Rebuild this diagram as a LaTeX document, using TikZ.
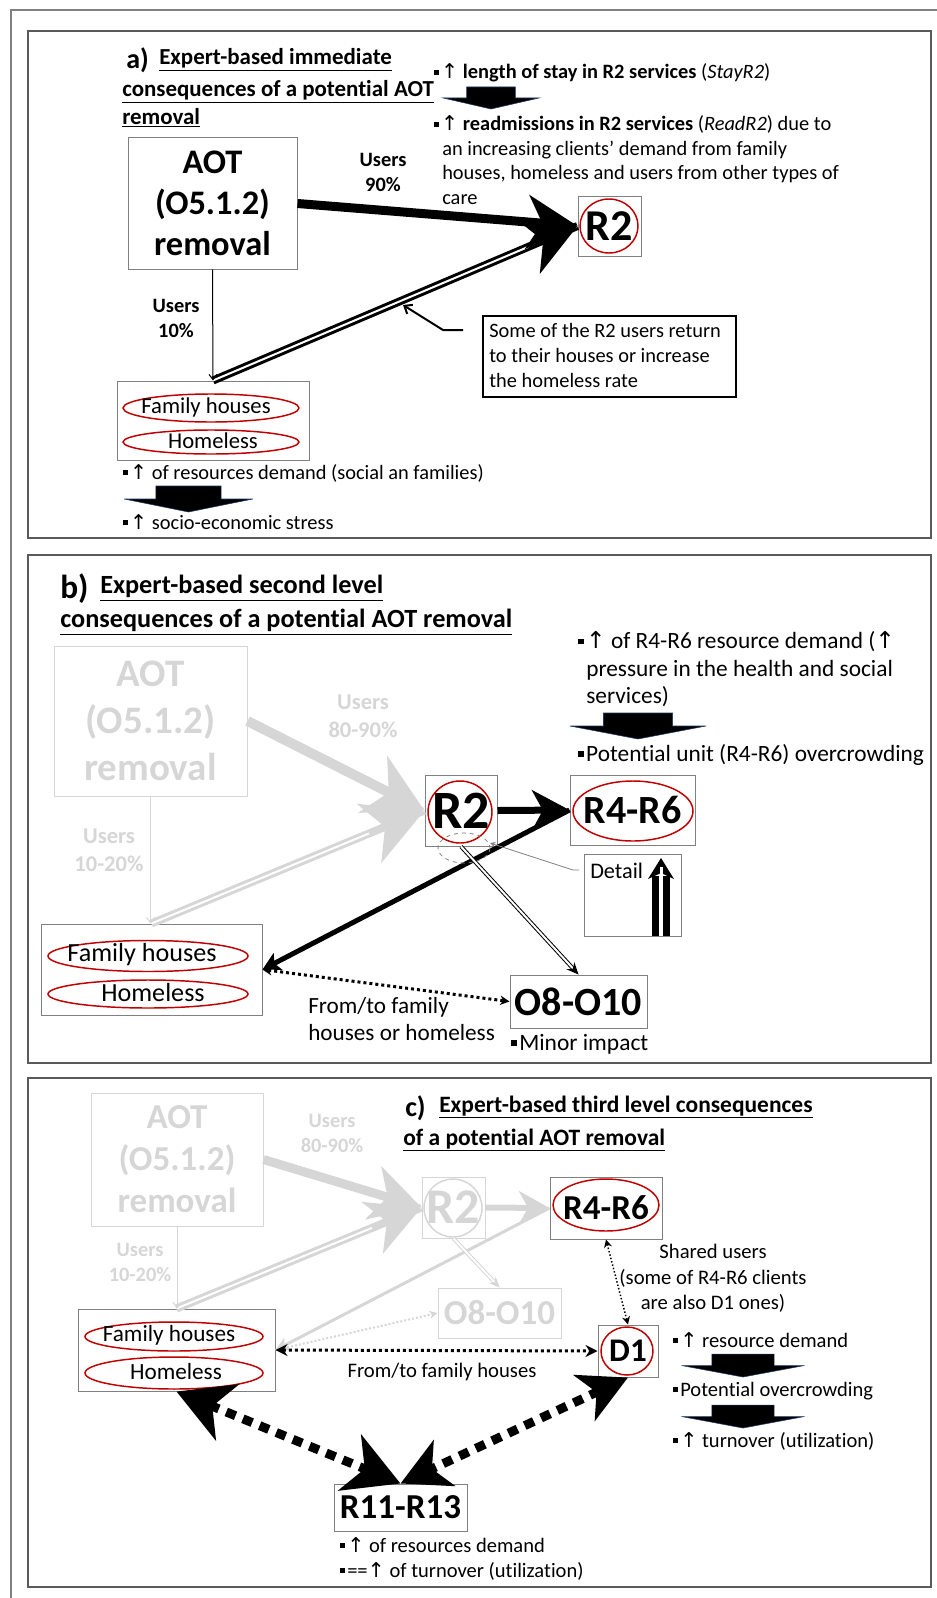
\documentclass[tikz,border=0pt]{standalone}
\usepackage{fontspec}
\setmainfont{Carlito}[Ligatures=CommonOff]
\newfontfamily\symfont{DejaVu Sans}
\usetikzlibrary{arrows.meta,calc}

\definecolor{boxgrey}{HTML}{808080}
\definecolor{framegrey}{HTML}{5A5A5A}
\definecolor{fade}{HTML}{D6D6D6}
\definecolor{ringred}{HTML}{C00000}
\definecolor{edgeblue}{HTML}{1F3864}

\newcommand\sqbul{\raisebox{0.2em}{\rule{0.24em}{0.24em}}\hspace{0.1em}}
\newcommand\uparr{{\symfont\char"2191}}

\tikzset{
  fs/.style 2 args={font=\fontsize{#1}{#2}\selectfont},
  fsb/.style 2 args={font=\fontsize{#1}{#2}\selectfont\bfseries},
  box/.style={draw=boxgrey, line width=0.75pt, inner sep=0pt, align=center},
  ghostbox/.style={box, draw=fade, text=fade},
  txt/.style={inner sep=0pt, align=left, anchor=west},
  ring/.style={draw=ringred, line width=1.1pt},
  panel/.style={draw=framegrey, line width=1.1pt},
  dblline/.style={line width=2.25pt, double=white, double distance=1.5pt},
  thindbl/.style={line width=0.75pt, double=white, double distance=1.5pt},
  thinarrow/.style={line width=0.75pt, -{Straight Barb[length=4pt,width=6pt]}},
  dotline/.style={line width=2.25pt, dash pattern=on 2.25pt off 2.25pt},
  bigdash/.style={line width=6.75pt, dash pattern=on 7.5pt off 6pt},
  downblk/.pic={
    \filldraw[draw=edgeblue, fill=black, line width=0.4pt]
      (-33,0) -- (33,0) -- (33,13) -- (65,13) -- (0,26) -- (-65,13) -- (-33,13) -- cycle;
  }
}

\begin{document}
\begin{tikzpicture}[x=0.75pt, y=-0.75pt]
    \useasboundingbox (0,0) rectangle (936,1598);
    \draw[draw=boxgrey, line width=1.1pt] (11,10) rectangle (950,1612);

    % Panel a: immediate consequences
    \draw[panel] (28,31) rectangle (931,538);
    \node[txt, fsb={21}{24}] (labA) at (126,60) {a)};
    \node[txt, fsb={17.2}{21}] (titA1) at (159,60) {\underline{Expert-based immediate}};
    \node[txt, fsb={17.2}{21}] (titA2) at (122,104) {\underline{consequences of a potential AOT}\\\underline{removal}};

    \node[box, minimum width=126.75pt, minimum height=98.25pt, fsb={25.8}{30.75}]
          (aotA) at (212.5,203.5) {AOT\\(O5.1.2)\\removal};
    \node[box, minimum width=47.25pt, minimum height=45pt, fsb={33}{36}] (r2A) at (609.5,226) {R2};
    \draw[ring] (609,226) ellipse [x radius=29, y radius=27];
    \node[box, minimum width=144pt, minimum height=59.25pt] (famA) at (213,420.5) {};
    \draw[ring] (211,408) ellipse [x radius=88, y radius=14];
    \draw[ring] (211,442) ellipse [x radius=88, y radius=12];
    \node[fs={17}{19}, inner sep=0pt] (famA1) at (206,407) {Family houses};
    \node[fs={17}{19}, inner sep=0pt] (famA2) at (213,441) {Homeless};
    \node[fsb={15.3}{18.75}, align=center, inner sep=0pt] (usrA1) at (383,172.5) {Users\\90\%};
    \node[fsb={15.3}{18.75}, align=center, inner sep=0pt] (usrA2) at (176,318) {Users\\10\%};

    % Flows a
    \draw[dblline] (famA.north) -- (r2A.west);
    \draw[line width=2pt, -{Stealth[length=40pt,width=44pt,inset=12pt]}]
          ($(r2A.west)!40pt!(famA.north)$) -- (r2A.west);
    \draw[line width=6.75pt, -{Stealth[length=37.5pt,width=40pt,inset=11pt]}] (aotA.east) -- (r2A.west);
    \draw[thinarrow] (aotA.south) -- (famA.north);

    % Callout a
    \node[draw, line width=1.9pt, minimum width=189.75pt, minimum height=60.75pt, inner sep=0pt]
          (callA) at (609.5,356.5) {};
    \node[txt, fs={15.3}{18.4}] (callAtxt) at (489,355.5)
          {Some of the R2 users return\\to their houses or increase\\the homeless rate};
    \coordinate (callA0) at (463,330);
    \coordinate (callA1) at (403,305);
    \draw[line width=1.5pt, -{Straight Barb[length=5pt,width=8pt]}] (callA0) -- (443,330) -- (callA1);

    % Notes a
    \node[txt, fs={15.3}{18.4}] (stayA) at (434,73)
          {\sqbul\uparr\ \textbf{length of stay in R2 services} (\textit{StayR2})};
    \pic[xscale=0.738, yscale=0.846] (blkA1) at (491,87) {downblk};
    \node[txt, fs={15.3}{18.4}] (readA) at (434,160)
          {\sqbul\uparr\ \textbf{readmissions in R2 services} (\textit{ReadR2}) due to\\
           \hspace*{6pt}an increasing clients’ demand from family\\
           \hspace*{6pt}houses, homeless and users from other types of\\
           \hspace*{6pt}care};
    \node[txt, fs={15.3}{18.4}] (dmdA) at (123,473) {\sqbul\uparr\ of resources demand (social an families)};
    \pic[xscale=0.99] (blkA2) at (188.5,486) {downblk};
    \node[txt, fs={15.3}{18.4}] (strA) at (123,522) {\sqbul\uparr\ socio-economic stress};

    % Panel b: second level
    \draw[panel] (28,555) rectangle (931,1063);
    \node[txt, fsb={25}{28}] (labB) at (60,589) {b)};
    \node[txt, fsb={19.7}{25.5}] (titB1) at (100,588) {\underline{Expert-based second level}};
    \node[txt, fsb={19.7}{25.5}] (titB2) at (60,622) {\underline{consequences of a potential AOT removal}};

    \node[ghostbox, minimum width=144.75pt, minimum height=112.5pt, fsb={29.25}{35.25}]
          (aotB) at (150.5,721) {AOT\\(O5.1.2)\\removal};
    \node[fsb={16.9}{21}, text=fade, align=center, inner sep=0pt] (usrB1) at (363,716) {Users\\80-90\%};
    \node[fsb={16.9}{21}, text=fade, align=center, inner sep=0pt] (usrB2) at (109,850) {Users\\10-20\%};
    \node[box, minimum width=54pt, minimum height=53.25pt, fsb={40.5}{44}] (r2B) at (461,810.5) {R2};
    \draw[ring] (460,812) ellipse [x radius=32, y radius=31];
    \node[box, minimum width=93.75pt, minimum height=52.5pt, fsb={30}{34}] (r4B) at (632.5,810) {R4-R6};
    \draw[ring] (633,811) ellipse [x radius=60, y radius=30];
    \node[box, minimum width=165.75pt, minimum height=68.25pt] (famB) at (151.5,969.5) {};
    \draw[ring] (148,956) ellipse [x radius=100, y radius=15.5];
    \draw[ring] (148,994) ellipse [x radius=100, y radius=14];
    \node[fs={19.6}{22}, inner sep=0pt] (famB1) at (142,955) {Family houses};
    \node[fs={19.6}{22}, inner sep=0pt] (famB2) at (153,993) {Homeless};
    \node[box, minimum width=102.75pt, minimum height=39.75pt, fsb={30}{34}] (o8B) at (578.5,1001.5) {O8-O10};
    \node[box, minimum width=72.75pt, minimum height=61.5pt] (detB) at (632.5,895) {};
    \node[txt, fs={16.7}{20}] (detB1) at (590,871) {Detail};

    % Faded flows b
    \draw[fade, line width=7.5pt, -{Stealth[length=43pt,width=47pt,inset=13pt]}] (aotB.east) -- (r2B.west);
    \draw[dblline, draw=fade] (famB.north) -- (r2B.west);
    \draw[fade, line width=2pt, -{Stealth[length=45pt,width=48pt,inset=13pt]}]
          ($(r2B.west)!45pt!(famB.north)$) -- (r2B.west);
    \draw[thinarrow, fade] (aotB.south) -- (aotB.south |- famB.north);

    % Flows b
    \draw[line width=5.25pt, -{Stealth[length=28pt,width=30pt,inset=8pt]}] (r2B.east) -- (r4B.west);
    \draw[line width=3.75pt, -{Stealth[length=13pt,width=14pt,inset=3pt]}] (r4B.west) -- (famB.east);
    \draw[thindbl, -{Stealth[length=9pt,width=8pt]}] (r2B.south) -- (o8B.north);
    \draw[dotline, {Stealth[length=7pt,width=7pt]}-{Stealth[length=7pt,width=7pt]}] (famB.east) -- (o8B.west);

    % Detail b
    \draw[boxgrey, dashed, line width=0.6pt] (464,848) ellipse [x radius=26, y radius=15];
    \coordinate (ellB0) at (490,843);
    \coordinate (detB0) at (579,870);
    \draw[boxgrey, line width=0.6pt, {Stealth[length=4pt,width=4pt]}-] (ellB0) -- (573,870) -- (detB0);
    \draw[line width=5.25pt, double=white, double distance=3pt] (661,936) -- (661,876);
    \fill (648,879) -- (661,858) -- (674,879) -- (661,873) -- cycle;
    \draw[white, line width=2.25pt] (661,880) -- (661,867);

    % Notes b
    \node[txt, fs={17.5}{20.6}] (dmdB) at (578,669.5)
          {\sqbul\uparr\ of R4-R6 resource demand (\uparr\\
           \hspace*{6pt}pressure in the health and social\\
           \hspace*{6pt}services)};
    \pic[xscale=1.046] (blkB) at (638,713) {downblk};
    \node[txt, fs={17.5}{20.6}] (ovcB) at (578,755) {\sqbul Potential unit (R4-R6) overcrowding};
    \node[txt, fs={17.4}{20.25}] (fromB) at (308,1019.5) {From/to family\\houses or homeless};
    \node[txt, fs={17.6}{20}] (minB) at (511,1044) {\sqbul Minor impact};

    % Panel c: third level
    \draw[panel] (28,1078) rectangle (931,1587);
    \node[txt, fsb={21}{24}] (labC) at (405,1108) {c)};
    \node[txt, fsb={17.6}{24.75}] (titC1) at (439,1107) {\underline{Expert-based third level consequences}};
    \node[txt, fsb={17.6}{24.75}] (titC2) at (403,1140) {\underline{of a potential AOT removal}};

    \node[ghostbox, minimum width=129pt, minimum height=99.75pt, fsb={26.25}{31.5}]
          (aotC) at (177,1159.5) {AOT\\(O5.1.2)\\removal};
    \node[fsb={15.3}{18.75}, text=fade, align=center, inner sep=0pt] (usrC1) at (332,1133.5) {Users\\80-90\%};
    \node[fsb={15.3}{18.75}, text=fade, align=center, inner sep=0pt] (usrC2) at (140,1262) {Users\\10-20\%};
    \node[ghostbox, minimum width=47.25pt, minimum height=45.75pt, fsb={37.5}{40}] (r2C) at (453.5,1207.5) {R2};
    \draw[fade, line width=1.1pt] (453,1208) ellipse [x radius=29, y radius=29];
    \node[ghostbox, minimum width=92.25pt, minimum height=37.5pt, fsb={26.25}{30}] (o8C) at (499.5,1313) {O8-O10};
    \node[box, minimum width=84pt, minimum height=46.5pt, fsb={26.25}{30}] (r4C) at (606,1208) {R4-R6};
    \draw[ring] (606,1205) ellipse [x radius=53, y radius=26];
    \node[box, minimum width=147.75pt, minimum height=61.5pt] (famC) at (176.5,1350) {};
    \draw[ring] (174,1336.5) ellipse [x radius=89, y radius=14.5];
    \draw[ring] (174,1373) ellipse [x radius=89, y radius=16];
    \node[fs={17.4}{20}, inner sep=0pt] (famC1) at (169,1335) {Family houses};
    \node[fs={17.4}{20}, inner sep=0pt] (famC2) at (176,1372) {Homeless};
    \node[box, minimum width=45pt, minimum height=39pt, fsb={24.75}{28}] (d1C) at (628,1351) {D1};
    \draw[ring] (627,1351) ellipse [x radius=26, y radius=24];
    \node[box, minimum width=99.75pt, minimum height=35.25pt, fsb={26.25}{30}] (r11C) at (400.5,1507.5) {R11-R13};

    % Faded flows c
    \draw[fade, line width=6.75pt, -{Stealth[length=37.5pt,width=41pt,inset=11pt]}] (aotC.east) -- (r2C.west);
    \draw[dblline, draw=fade] (famC.north) -- (r2C.west);
    \draw[fade, line width=2pt, -{Stealth[length=40pt,width=42pt,inset=12pt]}]
          ($(r2C.west)!40pt!(famC.north)$) -- (r2C.west);
    \draw[thinarrow, fade] (aotC.south) -- (aotC.south |- famC.north);
    \draw[fade, line width=4.5pt, -{Stealth[length=23pt,width=25pt,inset=7pt]}] (r2C.east) -- (r4C.west);
    \draw[fade, line width=2.25pt, -{Stealth[length=10pt,width=10pt,inset=2.5pt]}] (r4C.west) -- (famC.east);
    \draw[thindbl, draw=fade, -{Stealth[length=8pt,width=7pt]}] (r2C.south) -- (o8C.north);
    \draw[fade, line width=1.5pt, dash pattern=on 1.5pt off 1.5pt, -{Stealth[length=6pt,width=6pt]}] (famC.east) -- (o8C.west);

    % Flows c
    \draw[dotline, {Stealth[length=9pt,width=9pt]}-{Stealth[length=9pt,width=9pt]}] (famC.east) -- (d1C.west);
    \draw[line width=1.1pt, dash pattern=on 1.1pt off 1.5pt, {Stealth[length=6pt,width=6pt]}-{Stealth[length=6pt,width=6pt]}]
          (r4C.south) -- (d1C.north);
    \draw[bigdash, {Stealth[length=41pt,width=45pt,inset=12pt]}-{Stealth[length=41pt,width=45pt,inset=12pt]}]
          (famC.south) -- (r11C.north);
    \draw[bigdash, {Stealth[length=36pt,width=37.5pt,inset=10pt]}-{Stealth[length=36pt,width=37.5pt,inset=10pt]}]
          (d1C.south) -- (r11C.north);

    % Notes c
    \node[fs={15.5}{19.1}, align=center, inner sep=0pt] (shrC) at (713,1278.5)
          {Shared users\\(some of R4-R6 clients\\are also D1 ones)};
    \node[fs={15.5}{18}, inner sep=0pt] (fromC) at (442,1372) {From/to family houses};
    \node[txt, fs={15.4}{19}] (dmdC) at (673,1340) {\sqbul\uparr\ resource demand};
    \pic[xscale=0.946, yscale=0.885] (blkC1) at (743,1354) {downblk};
    \node[txt, fs={15.4}{19}] (ovcC) at (673,1391) {\sqbul Potential overcrowding};
    \pic[xscale=0.946, yscale=0.885] (blkC2) at (743,1405) {downblk};
    \node[txt, fs={15.4}{19}] (turnC) at (673,1441) {\sqbul\uparr\ turnover (utilization)};
    \node[txt, fs={15.4}{18.75}] (r11txt) at (340,1558.5)
          {\sqbul\uparr\ of resources demand\\\sqbul==\uparr\ of turnover (utilization)};
\end{tikzpicture}
\end{document}
